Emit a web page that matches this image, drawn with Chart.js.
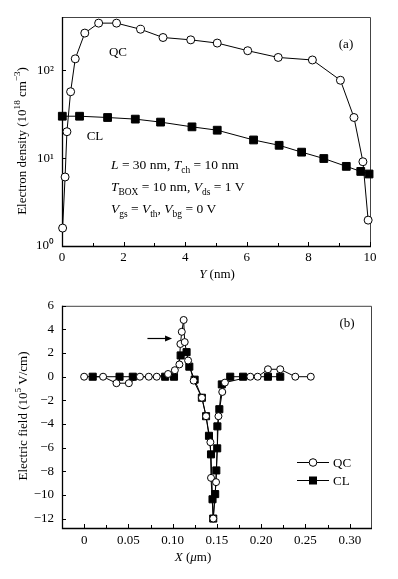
<!DOCTYPE html>
<html>
<head>
<meta charset="utf-8">
<script src="https://cdn.jsdelivr.net/npm/chart.js@4.4.1/dist/chart.umd.min.js"></script>
<style>
    html, body { margin: 0; padding: 0; background: #fff; }
    #wrap { position: relative; width: 398px; height: 579px; }
    #chartA { position: absolute; left: 0; top: 0; }
    #chartB { position: absolute; left: 0; top: 290px; }
</style>
</head>
<body>
<div id="wrap">
    <canvas id="chartA" width="398" height="290"></canvas>
    <canvas id="chartB" width="398" height="289"></canvas>
</div>

<script>
    // (a) electron density vs Y (nm)
    const aQcPos  = [0.02, 0.10, 0.16, 0.28, 0.43, 0.74, 1.19, 1.77, 2.55, 3.28, 4.18, 5.04, 6.03, 7.02, 8.13, 9.04, 9.48, 9.77, 9.94]
    const aQcDens = [1.6, 6.1, 20, 57, 135, 265, 344, 344, 293, 236, 222, 204, 167, 140, 131, 77, 29, 9.1, 1.97]
    const aClPos  = [0.01, 0.57, 1.48, 2.38, 3.20, 4.22, 5.04, 6.22, 7.05, 7.78, 8.50, 9.23, 9.70, 9.97]
    const aClDens = [30, 30, 29, 27.8, 25.7, 22.7, 20.8, 16.1, 14.0, 11.7, 9.9, 8.06, 7.06, 6.6]
    const aXTicks = [0, 2, 4, 6, 8, 10]
    const aYTicks = [1, 10, 100]
    const aYLabels = ['10\u2070', '10\u00b9', '10\u00b2']

    // (b) electric field vs X (um)
    const bQcPos   = [0, 0.0214, 0.0365, 0.0505, 0.063, 0.073, 0.082, 0.0948, 0.1025, 0.1076, 0.1087, 0.1103, 0.1124, 0.1136, 0.1174, 0.1237, 0.133, 0.1377, 0.1426, 0.1433, 0.1458, 0.149, 0.1517, 0.156, 0.159, 0.1877, 0.196, 0.2076, 0.2215, 0.2385, 0.256]
    const bQcField = [0, 0, -0.55, -0.55, 0, 0, 0, 0.23, 0.55, 1.04, 2.77, 3.8, 4.8, 2.93, 1.37, -0.33, -1.78, -3.34, -5.54, -8.56, -12.0, -8.92, -3.34, -1.29, -0.5, 0, 0, 0.63, 0.63, 0, 0]
    const bClPos   = [0.0097, 0.040, 0.055, 0.0915, 0.1015, 0.109, 0.1157, 0.1188, 0.1248, 0.133, 0.1377, 0.141, 0.1433, 0.145, 0.1458, 0.148, 0.1493, 0.1503, 0.1505, 0.1527, 0.1555, 0.165, 0.1795, 0.2076, 0.2215]
    const bClField = [0, 0, 0, 0, 0, 1.8, 2.08, 0.85, -0.25, -1.78, -3.34, -5.0, -6.57, -10.37, -12.0, -9.93, -7.93, -6.06, -4.2, -2.75, -0.65, 0, 0, 0, 0]
    const bXTicks  = [0, 0.05, 0.10, 0.15, 0.20, 0.25, 0.30]
    const bXLabels = ['0', '0.05', '0.10', '0.15', '0.20', '0.25', '0.30']
    const bYTicks  = [-12, -10, -8, -6, -4, -2, 0, 2, 4, 6]

    const serif = '"Liberation Serif", "Times New Roman", serif'

    function pts(xs, ys) {
        return xs.map((x, i) => ({x: x, y: ys[i]}))
    }

    // text with italic / sub / sup pieces, y = baseline
    function rich(ctx, parts, x, y, size, align) {
        const items = parts.map(p => {
            const k = p[1] || ''
            const small = k == 'sub' || k == 'sup'
            const font = (k == 'i' ? 'italic ' : '') + (small ? size * 0.7 : size) + 'px ' + serif
            ctx.font = font
            return {t: p[0], k: k, font: font, w: ctx.measureText(p[0]).width}
        })
        const total = items.reduce((s, it) => s + it.w, 0)
        let cx = align == 'center' ? x - total / 2 : x
        ctx.textAlign = 'left'
        ctx.textBaseline = 'alphabetic'
        ctx.fillStyle = '#000'
        items.forEach(it => {
            ctx.font = it.font
            const dy = it.k == 'sub' ? size * 0.28 : it.k == 'sup' ? -size * 0.4 : 0
            ctx.fillText(it.t, cx, y + dy)
            cx += it.w
        })
    }

    function richUp(ctx, parts, cx, cy, size) {
        ctx.save()
        ctx.translate(cx, cy)
        ctx.rotate(-Math.PI / 2)
        rich(ctx, parts, 0, size * 0.35, size, 'center')
        ctx.restore()
    }

    // frame + inward ticks, minor ticks halfway between x majors
    function framePlugin(xMajors, yMajors) {
        return {
            id: 'frame',
            beforeDatasetsDraw(chart) {
                const ctx = chart.ctx
                const a = chart.chartArea
                const sx = chart.scales.x, sy = chart.scales.y
                ctx.save()
                ctx.strokeStyle = '#444'
                ctx.lineWidth = 1
                ctx.beginPath()
                ctx.moveTo(a.left, a.top + 0.5); ctx.lineTo(a.right + 0.5, a.top + 0.5); ctx.lineTo(a.right + 0.5, a.bottom)
                ctx.stroke()
                ctx.strokeStyle = '#000'
                ctx.lineWidth = 1.3
                ctx.beginPath()
                ctx.moveTo(a.left + 0.5, a.top); ctx.lineTo(a.left + 0.5, a.bottom + 0.5); ctx.lineTo(a.right + 1, a.bottom + 0.5)
                ctx.stroke()
                ctx.lineWidth = 1
                ctx.beginPath()
                xMajors.forEach((v, i) => {
                    const px = Math.round(sx.getPixelForValue(v)) + 0.5
                    ctx.moveTo(px, a.bottom); ctx.lineTo(px, a.bottom - 4)
                    if (i < xMajors.length - 1) {
                        const mx = Math.round(sx.getPixelForValue((v + xMajors[i + 1]) / 2)) + 0.5
                        ctx.moveTo(mx, a.bottom); ctx.lineTo(mx, a.bottom - 3)
                    }
                })
                yMajors.forEach(v => {
                    const py = Math.round(sy.getPixelForValue(v)) + 0.5
                    ctx.moveTo(a.left, py); ctx.lineTo(a.left + 4, py)
                })
                ctx.stroke()
                ctx.restore()
            }
        }
    }

    const axisFont = {family: serif, size: 13}

    // ---------- chart (a) ----------
    const textA = {
        id: 'textA',
        afterDraw(chart) {
            const ctx = chart.ctx
            ctx.save()
            rich(ctx, [['QC']], 118, 56, 13, 'center')
            rich(ctx, [['CL']], 95, 140, 13, 'center')
            rich(ctx, [['(a)']], 346, 48, 13, 'center')
            rich(ctx, [['L', 'i'], [' = 30 nm, '], ['T', 'i'], ['ch', 'sub'], [' = 10 nm']], 111, 169, 13.5)
            rich(ctx, [['T', 'i'], ['BOX', 'sub'], [' = 10 nm, '], ['V', 'i'], ['ds', 'sub'], [' = 1 V']], 111, 191, 13.5)
            rich(ctx, [['V', 'i'], ['gs', 'sub'], [' = '], ['V', 'i'], ['th', 'sub'], [', '], ['V', 'i'], ['bg', 'sub'], [' = 0 V']], 111, 213, 13.5)
            rich(ctx, [['Y', 'i'], [' (nm)']], 217, 278, 13, 'center')
            richUp(ctx, [['Electron density (10'], ['18', 'sup'], [' cm'], ['\u22123', 'sup'], [')']], 21, 141, 13)
            ctx.restore()
        }
    }

    new Chart(document.getElementById('chartA'), {
        type: 'line',
        data: {
            datasets: [{
                label: 'QC',
                data: pts(aQcPos, aQcDens),
                borderColor: '#000', borderWidth: 1,
                pointStyle: 'circle', pointRadius: 4,
                pointBackgroundColor: '#fff', pointBorderColor: '#000', pointBorderWidth: 1,
                clip: false
            }, {
                label: 'CL',
                data: pts(aClPos, aClDens),
                borderColor: '#000', borderWidth: 1,
                pointStyle: 'rect', pointRadius: 5.5,
                pointBackgroundColor: '#000', pointBorderColor: '#000', pointBorderWidth: 1,
                clip: false
            }]
        },
        options: {
            responsive: false,
            animation: false,
            layout: {padding: {top: 17, right: 28, left: 0, bottom: 0}},
            plugins: {legend: {display: false}, tooltip: {enabled: false}},
            scales: {
                x: {
                    type: 'linear', min: 0, max: 10,
                    afterBuildTicks: s => { s.ticks = aXTicks.map(v => ({value: v})) },
                    afterFit: s => { s.height = 44 },
                    grid: {display: false, drawTicks: false},
                    border: {display: false},
                    ticks: {padding: 4, color: '#000', font: axisFont, maxRotation: 0, autoSkip: false}
                },
                y: {
                    type: 'logarithmic', min: 1, max: 404,
                    afterBuildTicks: s => { s.ticks = aYTicks.map(v => ({value: v})) },
                    afterFit: s => { s.width = 62 },
                    grid: {display: false, drawTicks: false},
                    border: {display: false},
                    ticks: {padding: 8, color: '#000', font: axisFont, autoSkip: false, callback: (v, i) => aYLabels[i]}
                }
            }
        },
        plugins: [framePlugin(aXTicks, aYTicks), textA]
    })

    // ---------- chart (b) ----------
    const arrowFrom = [0.0715, 3.24]
    const arrowTo = [0.0993, 3.24]

    const textB = {
        id: 'textB',
        afterDraw(chart) {
            const ctx = chart.ctx
            const sx = chart.scales.x, sy = chart.scales.y
            ctx.save()
            rich(ctx, [['(b)']], 347, 37, 13, 'center')
            // arrow
            const x1 = sx.getPixelForValue(arrowFrom[0]), y1 = Math.round(sy.getPixelForValue(arrowFrom[1])) + 0.5
            const x2 = sx.getPixelForValue(arrowTo[0])
            ctx.strokeStyle = '#000'; ctx.fillStyle = '#000'; ctx.lineWidth = 1.2
            ctx.beginPath(); ctx.moveTo(x1, y1); ctx.lineTo(x2 - 5, y1); ctx.stroke()
            ctx.beginPath(); ctx.moveTo(x2, y1); ctx.lineTo(x2 - 7, y1 - 3); ctx.lineTo(x2 - 7, y1 + 3); ctx.closePath(); ctx.fill()
            // legend
            ctx.lineWidth = 1
            ctx.beginPath(); ctx.moveTo(297, 172.5); ctx.lineTo(329, 172.5); ctx.stroke()
            ctx.beginPath(); ctx.arc(313, 172.5, 3.8, 0, Math.PI * 2); ctx.fillStyle = '#fff'; ctx.fill(); ctx.stroke()
            ctx.beginPath(); ctx.moveTo(297, 190.5); ctx.lineTo(329, 190.5); ctx.stroke()
            ctx.fillStyle = '#000'; ctx.fillRect(309, 186.5, 8, 8)
            rich(ctx, [['QC']], 333, 177, 13)
            rich(ctx, [['CL']], 333, 195, 13)
            // axis titles
            rich(ctx, [['X', 'i'], [' ('], ['\u03bc', 'i'], ['m)']], 193, 271, 13, 'center')
            richUp(ctx, [['Electric field (10'], ['5', 'sup'], [' V/cm)']], 22, 126, 13)
            ctx.restore()
        }
    }

    new Chart(document.getElementById('chartB'), {
        type: 'line',
        data: {
            datasets: [{
                label: 'QC',
                data: pts(bQcPos, bQcField),
                borderColor: '#000', borderWidth: 1,
                pointStyle: 'circle', pointRadius: 3.5,
                pointBackgroundColor: '#fff', pointBorderColor: '#000', pointBorderWidth: 1,
                clip: false
            }, {
                label: 'CL',
                data: pts(bClPos, bClField),
                borderColor: '#000', borderWidth: 1,
                pointStyle: 'rect', pointRadius: 5,
                pointBackgroundColor: '#000', pointBorderColor: '#000', pointBorderWidth: 1,
                clip: false
            }]
        },
        options: {
            responsive: false,
            animation: false,
            layout: {padding: {top: 10, right: 27, left: 0, bottom: 0}},
            plugins: {legend: {display: false}, tooltip: {enabled: false}},
            scales: {
                x: {
                    type: 'linear', min: -0.025, max: 0.324,
                    afterBuildTicks: s => { s.ticks = bXTicks.map(v => ({value: v})) },
                    afterFit: s => { s.height = 51 },
                    grid: {display: false, drawTicks: false},
                    border: {display: false},
                    ticks: {padding: 5, color: '#000', font: axisFont, maxRotation: 0, autoSkip: false, callback: (v, i) => bXLabels[i]}
                },
                y: {
                    type: 'linear', min: -12.8, max: 6,
                    afterBuildTicks: s => { s.ticks = bYTicks.map(v => ({value: v})) },
                    afterFit: s => { s.width = 62 },
                    grid: {display: false, drawTicks: false},
                    border: {display: false},
                    ticks: {padding: 8, color: '#000', font: axisFont, autoSkip: false, callback: v => String(v).replace('-', '\u2212')}
                }
            }
        },
        plugins: [framePlugin(bXTicks, bYTicks), textB]
    })
</script>
</body>
</html>
